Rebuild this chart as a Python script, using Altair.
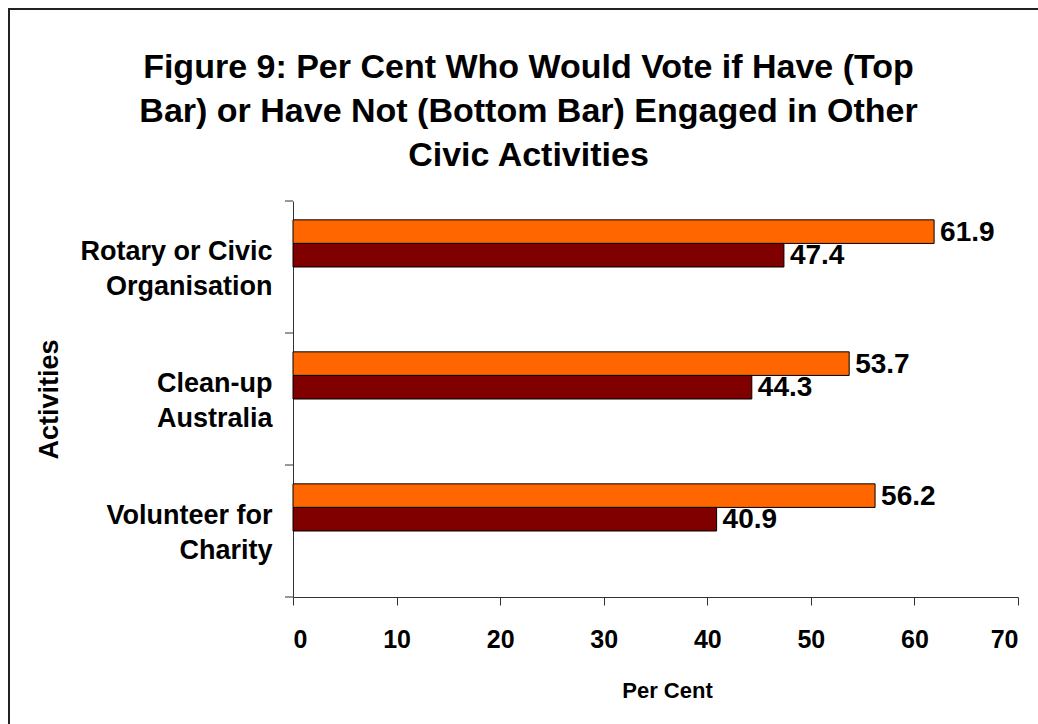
import altair as alt
import pandas as pd

# ---- data ----
categories = ["Rotary or Civic\nOrganisation", "Clean-up\nAustralia", "Volunteer for\nCharity"]
series = ["Have engaged (top bar)", "Have not engaged (bottom bar)"]
have = [61.9, 53.7, 56.2]
have_not = [47.4, 44.3, 40.9]
slot_domain = series + ["slot 3", "slot 4"]  # Excel-style empty slots in each band
colors = ["#FF6600", "#800000"]
x_ticks = [0, 10, 20, 30, 40, 50, 60, 70]
title_lines = [
    "Figure 9: Per Cent Who Would Vote if Have (Top",
    "Bar) or Have Not (Bottom Bar) Engaged in Other",
    "Civic Activities",
]

rows = []
for c, a, b in zip(categories, have, have_not):
    rows.append({"Activity": c, "Series": series[0], "Value": a})
    rows.append({"Activity": c, "Series": series[1], "Value": b})
df = pd.DataFrame(rows)

FONT = "Liberation Sans"

y_scale = alt.Scale(domain=categories, paddingInner=0, paddingOuter=0)
yoff_scale = alt.Scale(domain=slot_domain, paddingInner=0, paddingOuter=0.8)

y_enc = alt.Y(
    "Activity:N",
    sort=categories,
    scale=y_scale,
    axis=alt.Axis(
        title="Activities",
        titleFont=FONT,
        titleFontSize=27,
        titleFontWeight="bold",
        titleColor="black",
        titleAngle=270,
        titleX=-236,
        titleY=198,
        titleAlign="center",
        titleBaseline="alphabetic",
        labelExpr="split(datum.label, '\\n')",
        labelFont=FONT,
        labelFontSize=27,
        labelFontWeight="bold",
        labelColor="black",
        labelLineHeight=35,
        labelAlign="right",
        labelBaseline="middle",
        labelPadding=21,
        labelOffset=-15,
        labelLimit=400,
        ticks=False,
        domainColor="#333333",
        grid=False,
    ),
)

x_enc = alt.X(
    "Value:Q",
    scale=alt.Scale(domain=[0, 70], nice=False, zero=True),
    axis=alt.Axis(
        values=x_ticks,
        title="Per Cent",
        titleFont=FONT,
        titleFontSize=22,
        titleFontWeight="bold",
        titleColor="black",
        titleX=374,
        titleY=100,
        titleBaseline="alphabetic",
        labelFont=FONT,
        labelFontSize=25,
        labelFontWeight="bold",
        labelColor="black",
        labelPadding=22,
        tickSize=8,
        tickColor="#333333",
        domainColor="#333333",
        grid=False,
    ),
)

bars = alt.Chart(df).mark_bar(stroke="black", strokeWidth=1).encode(
    y=y_enc,
    yOffset=alt.YOffset("Series:N", scale=yoff_scale),
    x=x_enc,
    color=alt.Color("Series:N", scale=alt.Scale(domain=series, range=colors), legend=None),
)

labels = alt.Chart(df).mark_text(
    align="left", baseline="middle", dx=6, dy=1,
    font=FONT, fontSize=28, fontWeight="bold", color="black",
).encode(
    y=alt.Y("Activity:N", sort=categories, scale=y_scale),
    yOffset=alt.YOffset("Series:N", scale=yoff_scale),
    x=alt.X("Value:Q"),
    text=alt.Text("Value:Q", format=".1f"),
)

tick_df = pd.DataFrame({"Activity": categories})
yticks_top = alt.Chart(tick_df).mark_rule(color="#333333", strokeWidth=1).encode(
    y=alt.Y("Activity:N", sort=categories, scale=y_scale, bandPosition=0),
    x=alt.value(-8),
    x2=alt.value(0),
)
yticks_bottom = alt.Chart(pd.DataFrame({"Activity": categories[-1:]})).mark_rule(
    color="#333333", strokeWidth=1
).encode(
    y=alt.Y("Activity:N", sort=categories, scale=y_scale, bandPosition=1),
    x=alt.value(-8),
    x2=alt.value(0),
)

frame = alt.Chart(alt.Data(values=[{}])).mark_rect(
    fill="white", fillOpacity=0, stroke="#222222", strokeWidth=2
).encode(
    x=alt.value(-284), x2=alt.value(780),
    y=alt.value(-192), y2=alt.value(560),
)

chart = alt.layer(bars, labels, yticks_top, yticks_bottom, frame).properties(
    width=725,
    height=396,
    autosize=alt.AutoSizeParams(type="none"),
    padding={"left": 293, "top": 201, "right": 20, "bottom": 127},
    background="white",
    title=alt.TitleParams(
        text=title_lines,
        anchor="middle",
        frame="group",
        dx=-127,
        dy=242,
        offset=43,
        font=FONT,
        fontSize=34,
        fontWeight="bold",
        lineHeight=44,
        color="black",
        baseline="bottom",
    ),
).configure_view(strokeWidth=0)

chart.save("out.html", embed_options={"renderer": "svg", "actions": False})
